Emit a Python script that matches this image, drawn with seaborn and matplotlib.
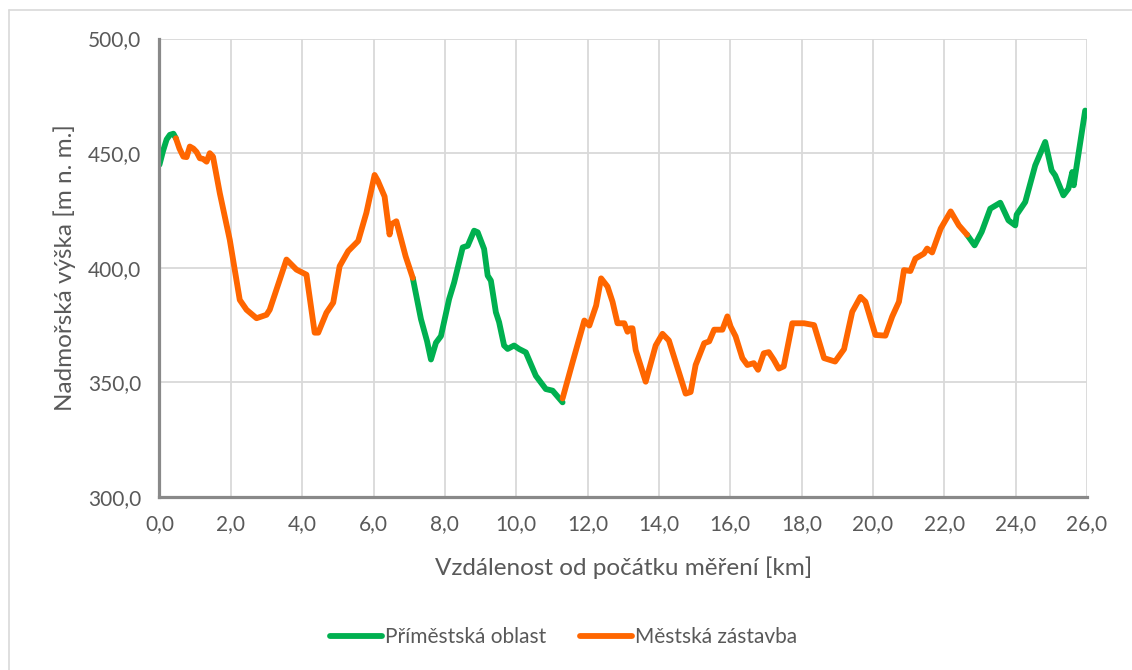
import numpy as np
import pandas as pd

import seaborn as sns
from matplotlib import pyplot as plt
from matplotlib.lines import Line2D
from matplotlib.ticker import FuncFormatter, MultipleLocator

# elevation profile, split into zones (distance km, elevation m n. m.)
suburb_1_km = [0.00, 0.10, 0.20, 0.29, 0.39, 0.46]
suburb_1_m = [445.0, 451.0, 456.0, 458.0, 458.5, 456.5]

city_1_km = [0.46, 0.56, 0.67, 0.76, 0.85, 0.95, 1.04, 1.13, 1.22, 1.32, 1.41,
             1.50, 1.69, 1.97, 2.25, 2.44, 2.72, 3.00, 3.09, 3.56, 3.84, 4.12,
             4.35, 4.45, 4.68, 4.87, 5.05, 5.29, 5.57, 5.80, 6.03, 6.12, 6.31,
             6.45, 6.50, 6.64, 6.90, 7.10]
city_1_m = [456.5, 452.0, 448.5, 448.3, 452.9, 452.0, 450.5, 447.8, 447.5,
            446.3, 450.0, 448.5, 432.6, 412.2, 386.0, 381.7, 378.0, 379.5,
            381.7, 403.6, 399.2, 397.0, 371.7, 371.7, 380.4, 384.8, 400.7,
            407.3, 411.7, 424.0, 440.5, 438.0, 431.1, 414.5, 419.0, 420.3,
            405.0, 395.6]

suburb_2_km = [7.10, 7.33, 7.50, 7.61, 7.75, 7.89, 8.12, 8.26, 8.50, 8.64,
               8.82, 8.92, 9.10, 9.20, 9.29, 9.43, 9.52, 9.66, 9.76, 9.94,
               10.08, 10.27, 10.55, 10.83, 11.02, 11.30]
suburb_2_m = [395.6, 377.6, 368.0, 360.0, 367.3, 370.2, 386.4, 393.6, 408.9,
              409.6, 416.2, 415.5, 408.2, 396.6, 394.4, 380.6, 376.3, 366.1,
              364.6, 366.1, 364.6, 363.1, 352.9, 347.1, 346.4, 341.3]

city_2_km = [11.30, 11.58, 11.91, 12.05, 12.24, 12.38, 12.56, 12.70, 12.84,
             13.03, 13.12, 13.20, 13.26, 13.35, 13.63, 13.91, 14.10, 14.28,
             14.75, 14.89, 15.03, 15.27, 15.41, 15.55, 15.78, 15.92, 16.01,
             16.15, 16.34, 16.48, 16.66, 16.78, 16.94, 17.08, 17.22, 17.36,
             17.50, 17.74, 18.07, 18.35, 18.63, 18.94, 19.19, 19.42, 19.65,
             19.79, 20.07, 20.35, 20.54, 20.73, 20.87, 21.05, 21.19, 21.43,
             21.52, 21.66, 21.90, 22.18, 22.41, 22.64]
city_2_m = [343.0, 358.8, 377.0, 374.8, 383.5, 395.4, 391.8, 385.2, 375.8,
            375.8, 372.1, 373.6, 373.6, 364.1, 350.3, 366.1, 371.2, 368.3,
            345.1, 345.8, 357.6, 367.1, 367.9, 373.0, 373.0, 378.8, 374.4,
            370.1, 360.6, 357.6, 358.4, 355.5, 362.7, 363.2, 359.9, 356.0,
            357.0, 375.8, 375.8, 375.0, 360.6, 359.1, 364.5, 380.8, 387.3,
            385.2, 370.7, 370.4, 378.7, 385.2, 399.0, 398.6, 404.0, 406.2,
            408.4, 406.7, 417.1, 424.6, 418.5, 414.4]

suburb_3_km = [22.64, 22.85, 23.05, 23.29, 23.57, 23.80, 23.99, 24.03, 24.27,
               24.55, 24.83, 25.01, 25.11, 25.34, 25.48, 25.59, 25.63, 25.67,
               25.95]
suburb_3_m = [414.4, 409.8, 415.7, 425.8, 428.4, 420.7, 418.5, 423.2, 428.7,
              444.7, 454.9, 442.5, 440.3, 431.6, 434.5, 441.8, 436.0, 440.3,
              468.6]

SUBURB = "Příměstská oblast"
CITY = "Městská zástavba"

segments = [
    (SUBURB, suburb_1_km, suburb_1_m),
    (CITY, city_1_km, city_1_m),
    (SUBURB, suburb_2_km, suburb_2_m),
    (CITY, city_2_km, city_2_m),
    (SUBURB, suburb_3_km, suburb_3_m),
]

frames = []
for i, (zone, km, m) in enumerate(segments):
    frames.append(pd.DataFrame({"km": km, "m": m, "zone": zone, "seg": i}))
df = pd.concat(frames, ignore_index=True)

sns.set_theme(style="whitegrid")
plt.rcParams["font.family"] = ["Lato", "DejaVu Sans"]

text_col = "#595959"
axis_col = "#898989"
line_w = 4.2

fig = plt.figure(figsize=(11.32, 6.7), dpi=100)
ax = fig.add_axes([0.1409, 0.2582, 0.8193, 0.6842])

sns.lineplot(
    data=df, x="km", y="m", hue="zone", units="seg", estimator=None,
    sort=False, palette={SUBURB: "#00B050", CITY: "#FF6600"},
    hue_order=[SUBURB, CITY], linewidth=line_w, ax=ax, legend=False,
)
for ln in ax.get_lines():
    ln.set_solid_joinstyle("round")
    ln.set_solid_capstyle("round")

ax.set_xlim(0, 26)
ax.set_ylim(300, 500)
ax.xaxis.set_major_locator(MultipleLocator(2))
ax.yaxis.set_major_locator(MultipleLocator(50))
fmt = FuncFormatter(lambda v, p: f"{v:.1f}".replace(".", ","))
ax.xaxis.set_major_formatter(fmt)
ax.yaxis.set_major_formatter(fmt)

ax.set_facecolor("white")
ax.grid(True, color="#D9D9D9", linewidth=1.3)
for side in ["top", "right"]:
    ax.spines[side].set_visible(False)
for side in ["left", "bottom"]:
    ax.spines[side].set_color(axis_col)
    ax.spines[side].set_linewidth(2.3)
    ax.spines[side].set_zorder(5)
ax.tick_params(axis="both", which="major", direction="out", length=5,
               width=2.3, color=axis_col, labelsize=15, labelcolor=text_col)
ax.tick_params(axis="y", pad=8)
ax.tick_params(axis="x", pad=7)

ax.set_xlabel("Vzdálenost od počátku měření [km]", fontsize=17.5,
              color=text_col, labelpad=16)
ax.set_ylabel("Nadmořská výška [m n. m.]", fontsize=17.5, color=text_col,
              labelpad=9)

handles = [
    Line2D([], [], color="#00B050", linewidth=line_w, solid_capstyle="round"),
    Line2D([], [], color="#FF6600", linewidth=line_w, solid_capstyle="round"),
]
fig.legend(handles, [SUBURB, CITY], loc="center", bbox_to_anchor=(0.498, 0.049),
           ncol=2, frameon=False, fontsize=15, handlelength=2.5,
           handletextpad=0.15, columnspacing=1.6, labelcolor=text_col)

# chart area border
fig.add_artist(Line2D([8.5 / 1132, 8.5 / 1132], [0, 1 - 10 / 670],
                      transform=fig.transFigure, color="#D9D9D9", linewidth=1.2))
fig.add_artist(Line2D([8.5 / 1132, 1], [1 - 10 / 670, 1 - 10 / 670],
                      transform=fig.transFigure, color="#D9D9D9", linewidth=1.2))

fig.savefig("out.png", dpi=100)
